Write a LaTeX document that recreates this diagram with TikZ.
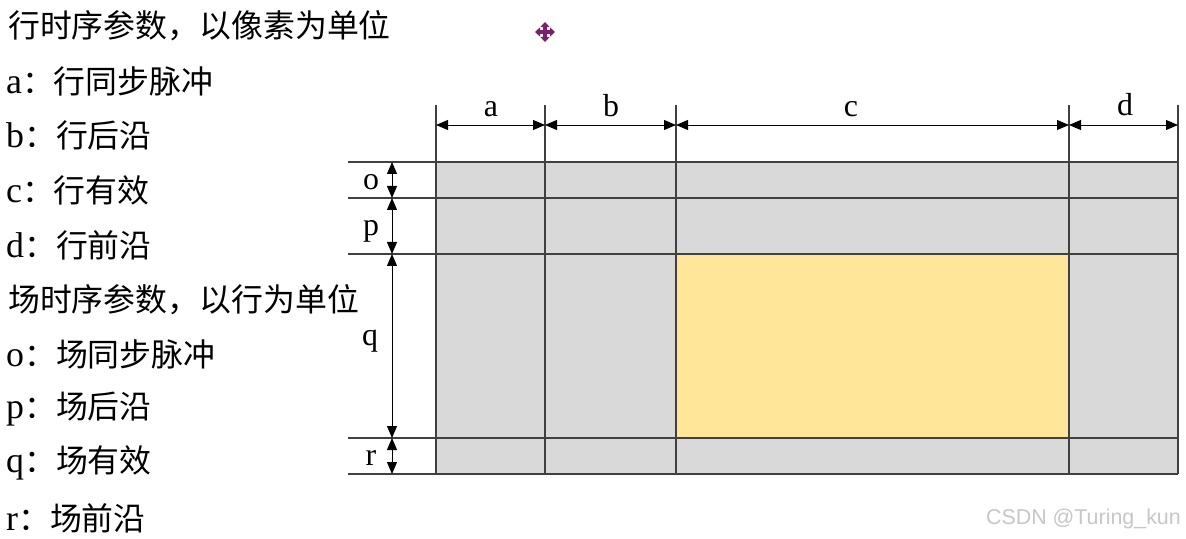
\documentclass[tikz,border=0pt]{standalone}
\usepackage{fontspec}
\setmainfont{Liberation Serif}
\newfontfamily\cjk{Noto Sans CJK SC}
\newfontfamily\wmfont{Liberation Sans}
\usetikzlibrary{arrows.meta}

\definecolor{blankgray}{HTML}{D9D9D9}
\definecolor{activeyellow}{HTML}{FFE699}
\definecolor{gridline}{HTML}{404040}
\definecolor{iconpurple}{HTML}{7E1E6E}

\tikzset{
    gridln/.style={draw=gridline, line width=1.2bp},
    dimarrow/.style={draw=black, line width=0.9bp,
        {Triangle[length=12bp,width=10bp]}-{Triangle[length=12bp,width=10bp]}},
    dimlabel/.style={anchor=base, inner sep=0pt, font=\fontsize{32}{36}\selectfont},
    listline/.style={anchor=west, inner sep=0pt, font=\fontsize{32}{38}\selectfont},
}

\begin{document}
\begin{tikzpicture}[x=1bp, y=-1bp]
    \useasboundingbox[fill=white] (0,0) rectangle (1186,539);

    % left column
    \node[listline] (rowhead) at (8,26) {\cjk 行时序参数，以像素为单位};
    \node[listline] (la) at (6,81) {\fontsize{36}{38}\selectfont a\cjk\fontsize{32}{38}\selectfont ：行同步脉冲};
    \node[listline] (lb) at (6,135) {\fontsize{36}{38}\selectfont b\cjk\fontsize{32}{38}\selectfont ：行后沿};
    \node[listline] (lc) at (6,190) {\fontsize{36}{38}\selectfont c\cjk\fontsize{32}{38}\selectfont ：行有效};
    \node[listline] (ld) at (6,245) {\fontsize{36}{38}\selectfont d\cjk\fontsize{32}{38}\selectfont ：行前沿};
    \node[listline] (colhead) at (8,300) {\cjk 场时序参数，以行为单位};
    \node[listline] (lo) at (6,354) {\fontsize{36}{38}\selectfont o\cjk\fontsize{32}{38}\selectfont ：场同步脉冲};
    \node[listline] (lp) at (6,409) {\fontsize{36}{38}\selectfont p\cjk\fontsize{32}{38}\selectfont ：场后沿};
    \node[listline] (lq) at (6,463) {\fontsize{36}{38}\selectfont q\cjk\fontsize{32}{38}\selectfont ：场有效};
    \node[listline] (lr) at (6,518) {\fontsize{36}{38}\selectfont r\cjk\fontsize{32}{38}\selectfont ：场前沿};

    % frame areas
    \fill[blankgray] (436,162) rectangle (1178,474);
    \fill[activeyellow] (676,254) rectangle (1069,438);

    % grid lines
    \draw[gridln] (436,105) -- (436,474);
    \draw[gridln] (545,105) -- (545,474);
    \draw[gridln] (676,105) -- (676,474);
    \draw[gridln] (1069,105) -- (1069,474);
    \draw[gridln] (1178,105) -- (1178,474);
    \draw[gridln] (348,162) -- (1178,162);
    \draw[gridln] (348,198) -- (1178,198);
    \draw[gridln] (348,254) -- (1178,254);
    \draw[gridln] (348,438) -- (1178,438);
    \draw[gridln] (348,474) -- (1178,474);

    % horizontal timing
    \coordinate (h0) at (436,125);
    \coordinate (h1) at (545,125);
    \coordinate (h2) at (676,125);
    \coordinate (h3) at (1069,125);
    \coordinate (h4) at (1178,125);
    \draw[dimarrow] (h0) -- (h1);
    \draw[dimarrow] (h1) -- (h2);
    \draw[dimarrow] (h2) -- (h3);
    \draw[dimarrow] (h3) -- (h4);
    \node[dimlabel] (a) at (491,117) {a};
    \node[dimlabel] (b) at (611,117) {b};
    \node[dimlabel] (c) at (851,117) {c};
    \node[dimlabel] (d) at (1125,116) {d};

    % vertical timing
    \coordinate (v0) at (392,162);
    \coordinate (v1) at (392,198);
    \coordinate (v2) at (392,254);
    \coordinate (v3) at (392,438);
    \coordinate (v4) at (392,474);
    \draw[dimarrow] (v0) -- (v1);
    \draw[dimarrow] (v1) -- (v2);
    \draw[dimarrow] (v2) -- (v3);
    \draw[dimarrow] (v3) -- (v4);
    \node[dimlabel] (o) at (371,190) {o};
    \node[dimlabel] (p) at (371,236) {p};
    \node[dimlabel] (q) at (370,346) {q};
    \node[dimlabel] (r) at (371,465) {r};

    % move icon
    \coordinate (mv) at (545,32);
    \draw[iconpurple, line width=3.2bp, -{Triangle[length=5bp,width=9bp]}] (mv) -- ++(10,0);
    \draw[iconpurple, line width=3.2bp, -{Triangle[length=5bp,width=9bp]}] (mv) -- ++(-10,0);
    \draw[iconpurple, line width=3.2bp, -{Triangle[length=5bp,width=9bp]}] (mv) -- ++(0,10);
    \draw[iconpurple, line width=3.2bp, -{Triangle[length=5bp,width=9bp]}] (mv) -- ++(0,-10);

    \node[anchor=east, inner sep=0pt, text=black!22, font=\wmfont\fontsize{21.5}{24}\selectfont] (wm) at (1181,519) {CSDN @Turing\_kun};
\end{tikzpicture}
\end{document}
